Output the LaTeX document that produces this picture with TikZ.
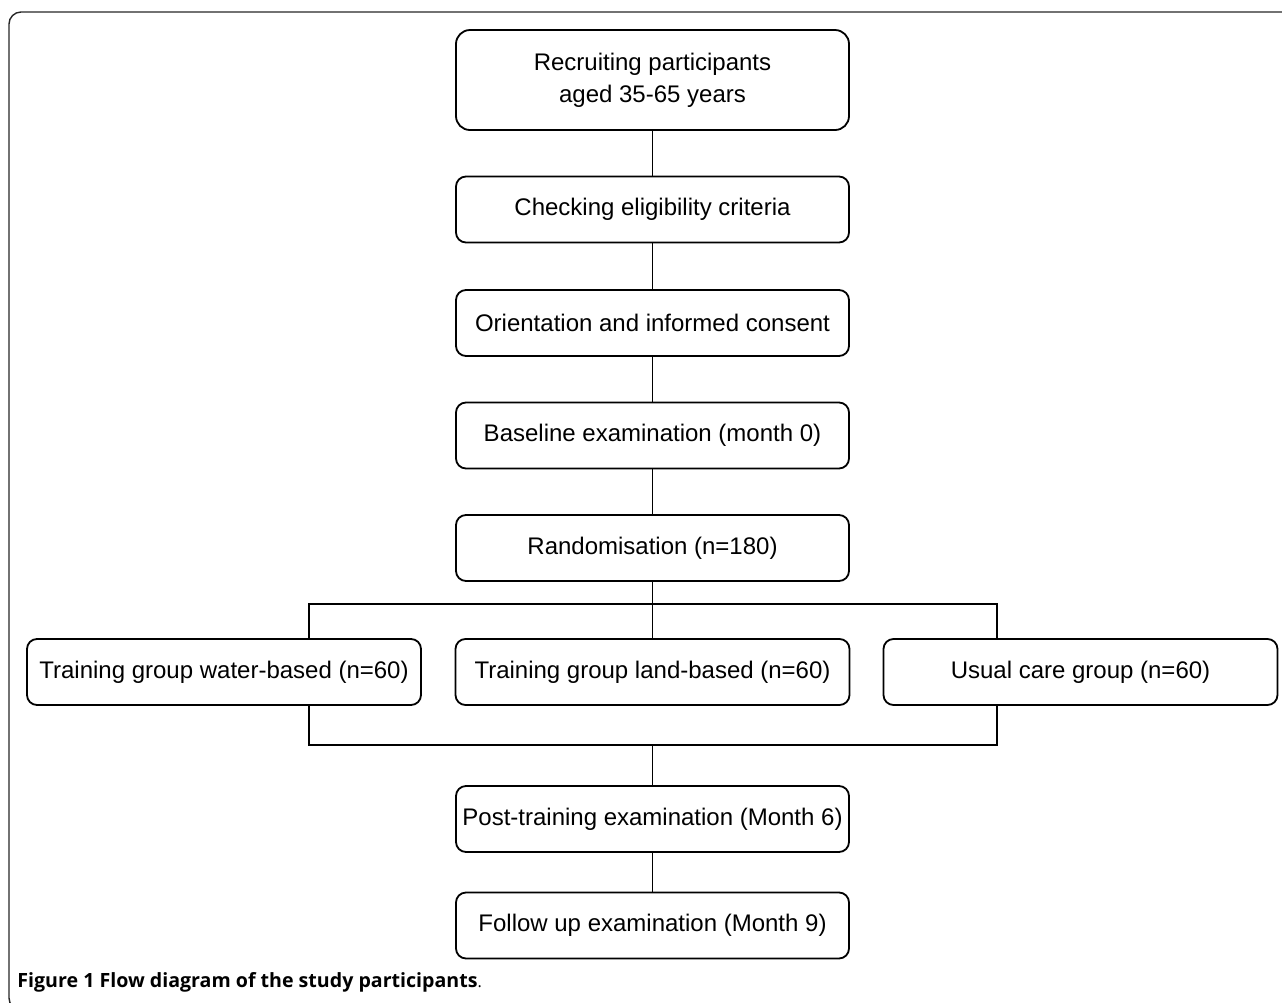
\documentclass[tikz,border=0pt]{standalone}
\usepackage{fontspec}
\setmainfont{Liberation Sans}
\newfontfamily\capfont{Open Sans}
\usetikzlibrary{positioning}

\begin{document}
\begin{tikzpicture}[
    x=0.5pt, y=-0.5pt,
    on grid,
    stage/.style={rectangle, rounded corners=5pt, draw=black, line width=0.9pt,
                  minimum width=196.5pt, minimum height=33pt, inner sep=0pt,
                  text centered, font=\fontsize{12}{16}\selectfont},
    group/.style={stage, minimum width=197pt},
    link/.style={draw=black, line width=0.55pt},
    frame/.style={draw=black!85, line width=0.7pt, rounded corners=6pt}
]
\useasboundingbox (0,0) rectangle (1282,1003);

% Rahmen
\draw[frame] (9,12) rectangle (1300,1010);

% Ablauf oben
\node[stage, minimum height=50pt, rounded corners=7pt, align=center] (recr) at (652.5,80)
    {Recruiting participants\\aged 35-65 years};
\node[stage, below=64.75pt of recr] (elig) {Checking eligibility criteria};
\node[stage, below=56.75pt of elig] (cons) {Orientation and informed consent};
\node[stage, below=56.25pt of cons] (base) {Baseline examination (month 0)};
\node[stage, below=56.25pt of base] (rand) {Randomisation (n=180)};

% Gruppen
\node[group, below=62pt of rand] (land) {Training group land-based (n=60)};
\node[group, left=214.25pt of land] (water) {Training group water-based (n=60)};
\node[group, right=214pt of land] (care) {Usual care group (n=60)};

% Ablauf unten
\node[stage, below=73.5pt of land] (post) {Post-training examination (Month 6)};
\node[stage, below=53.25pt of post] (follow) {Follow up examination (Month 9)};

% Verteiler
\coordinate (busTL) at (309,604);
\coordinate (busTR) at (997,604);
\coordinate (busBL) at (309,745);
\coordinate (busBR) at (997,745);

% Verbindungen
\draw[link] (recr) -- (elig);
\draw[link] (elig) -- (cons);
\draw[link] (cons) -- (base);
\draw[link] (base) -- (rand);
\draw[link] (rand) -- (land);
\draw[link] (busTL |- water.north) -- (busTL) -- (busTR) -- (busTR |- care.north);
\draw[link] (busBL |- water.south) -- (busBL) -- (busBR) -- (busBR |- care.south);
\draw[link] (post.north |- busBL) -- (post);
\draw[link] (post) -- (follow);

% Bildunterschrift
\node[anchor=west, inner sep=0pt, font=\capfont\fontsize{9.8}{12}\selectfont] (cap) at (17,982)
    {\textbf{Figure 1 Flow diagram of the study participants}{\fontsize{8}{10}\selectfont .}};

\end{tikzpicture}
\end{document}
